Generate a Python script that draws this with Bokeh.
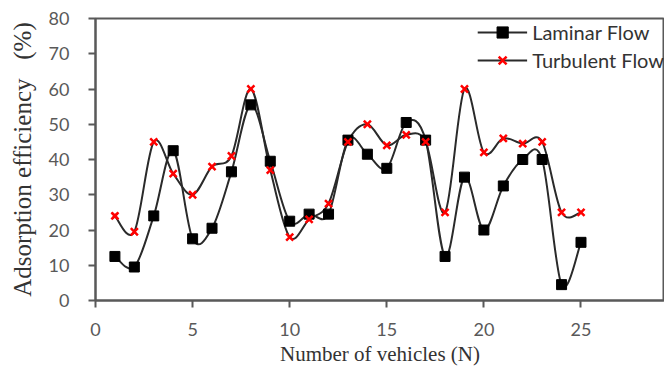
import numpy as np
from bokeh.plotting import figure
from bokeh.models import Range1d, Legend, LegendItem, FixedTicker
from bokeh.embed import file_html
from bokeh.resources import INLINE

vehicles = list(range(1, 26))
laminar = [12.5, 9.5, 24, 42.5, 17.5, 20.5, 36.5, 55.5, 39.5, 22.5, 24.5, 24.5, 45.5,
           41.5, 37.5, 50.5, 45.5, 12.5, 35, 20, 32.5, 40, 40, 4.5, 16.5]
turbulent = [24, 19.5, 45, 36, 30, 38, 41, 60, 37, 18, 23, 27.5, 45,
             50, 44, 47, 45, 25, 60, 42, 46, 44.5, 45, 25, 25]
x_ticks = [0, 5, 10, 15, 20, 25]
y_ticks = [0, 10, 20, 30, 40, 50, 60, 70, 80]


def smooth_segments(xs, ys):
    """Catmull-Rom style Bezier control points (Excel smoothed line)."""
    x = np.asarray(xs, float)
    y = np.asarray(ys, float)
    xp = np.concatenate([[x[0]], x, [x[-1]]])
    yp = np.concatenate([[y[0]], y, [y[-1]]])
    n = len(x) - 1
    d = dict(x0=[], y0=[], x1=[], y1=[], cx0=[], cy0=[], cx1=[], cy1=[])
    for i in range(n):
        p0x, p0y = xp[i], yp[i]
        p1x, p1y = xp[i + 1], yp[i + 1]
        p2x, p2y = xp[i + 2], yp[i + 2]
        p3x, p3y = xp[i + 3], yp[i + 3]
        d["x0"].append(p1x); d["y0"].append(p1y)
        d["x1"].append(p2x); d["y1"].append(p2y)
        d["cx0"].append(p1x + (p2x - p0x) / 6); d["cy0"].append(p1y + (p2y - p0y) / 6)
        d["cx1"].append(p2x - (p3x - p1x) / 6); d["cy1"].append(p2y - (p3y - p1y) / 6)
    return d


p = figure(width=664, height=368, output_backend="svg", toolbar_location=None,
           x_range=Range1d(0, 29.3), y_range=Range1d(0, 80),
           min_border_left=95, min_border_top=18, min_border_right=0, min_border_bottom=68)

p.grid.visible = False
p.outline_line_color = "#595959"
p.outline_line_width = 2
p.background_fill_color = "white"
p.border_fill_color = "white"

line_col = "#2a2a2a"
sl = smooth_segments(vehicles, laminar)
st = smooth_segments(vehicles, turbulent)
p.bezier(x0="x0", y0="y0", x1="x1", y1="y1", cx0="cx0", cy0="cy0", cx1="cx1", cy1="cy1",
         source=sl, line_color=line_col, line_width=2)
p.bezier(x0="x0", y0="y0", x1="x1", y1="y1", cx0="cx0", cy0="cy0", cx1="cx1", cy1="cy1",
         source=st, line_color=line_col, line_width=2)

# legend proxies: smaller markers hidden beneath the real first markers
ll = p.line([vehicles[0], vehicles[0]], [laminar[0], laminar[0]], line_color=line_col, line_width=2)
lt = p.line([vehicles[0], vehicles[0]], [turbulent[0], turbulent[0]], line_color=line_col, line_width=2)
ml = p.scatter([vehicles[0]], [laminar[0]], marker="square", size=7, fill_color="black", line_color="black")
mt = p.scatter([vehicles[0]], [turbulent[0]], marker="x", size=7, line_color="red", line_width=2.5)

rl = p.scatter(vehicles, laminar, marker="square", size=10, fill_color="black", line_color="black")
rt = p.scatter(vehicles, turbulent, marker="x", size=10, line_color="red", line_width=2.5)

legend = Legend(items=[LegendItem(label="Laminar Flow", renderers=[ll, ml]),
                       LegendItem(label="Turbulent Flow", renderers=[lt, mt])],
                location="top_right", border_line_color=None, background_fill_alpha=0,
                label_text_font="Lato", label_text_font_size="20px",
                label_text_color="#333333", glyph_width=50, spacing=0, padding=2,
                margin=0, label_standoff=5, label_height=28, glyph_height=28)
p.add_layout(legend)

for ax in (p.xaxis[0], p.yaxis[0]):
    ax.axis_line_color = "#595959"
    ax.axis_line_width = 2
    ax.major_tick_line_color = "#595959"
    ax.major_tick_line_width = 2
    ax.major_tick_out = 7
    ax.major_tick_in = 0
    ax.minor_tick_line_color = None
    ax.major_label_text_font = "Lato"
    ax.major_label_text_font_size = "18px"
    ax.major_label_text_color = "#595959"
    ax.axis_label_text_font = "Liberation Serif"
    ax.axis_label_text_font_style = "normal"
    ax.axis_label_text_color = "#333333"

p.xaxis.ticker = FixedTicker(ticks=x_ticks)
p.yaxis.ticker = FixedTicker(ticks=y_ticks)
p.xaxis.axis_label = "Number of vehicles (N)"
p.yaxis.axis_label = "Adsorption efficiency\u00a0\u00a0\u00a0(%)"
p.xaxis.axis_label_text_font_size = "21px"
p.yaxis.axis_label_text_font_size = "25px"
p.xaxis.major_label_standoff = 15
p.yaxis.major_label_standoff = 19
p.xaxis.axis_label_standoff = 3
p.yaxis.axis_label_standoff = 10

open("out.html", "w").write(file_html(p, INLINE))
